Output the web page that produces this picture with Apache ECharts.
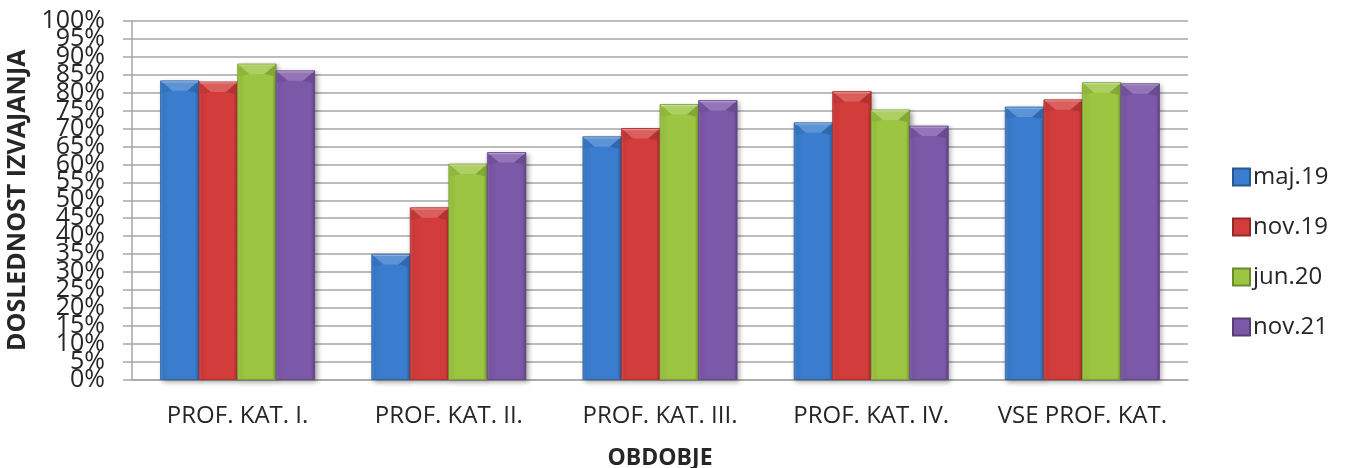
<!DOCTYPE html>
<html>
<head>
<meta charset="utf-8">
<script src="https://cdn.jsdelivr.net/npm/echarts@6/dist/echarts.min.js"></script>
<style>
  html, body { margin: 0; padding: 0; background: #ffffff; }
  #chart { width: 1345px; height: 468px; }
</style>
</head>
<body>
<div id="chart"></div>
<script>
// Categories (professional categories) and survey periods
const categories = ['PROF. KAT. I.', 'PROF. KAT. II.', 'PROF. KAT. III.', 'PROF. KAT. IV.', 'VSE PROF. KAT.'];
const periods = ['maj.19', 'nov.19', 'jun.20', 'nov.21'];

// Share of consistent execution (%) per category, one array per period
const maj19 = [83.3, 34.9, 67.7, 71.6, 76.0];
const nov19 = [83.0, 47.9, 70.0, 80.3, 78.0];
const jun20 = [88.0, 60.1, 76.7, 75.2, 82.8];
const nov21 = [86.1, 63.3, 77.8, 70.7, 82.5];

const periodValues = [maj19, nov19, jun20, nov21];
const periodColors = ['#3a7ccd', '#d23c3a', '#9cc541', '#7c58a8'];

const FONT = '"Open Sans", "Noto Sans", sans-serif';
const GROUP_RATIO = 0.73; // share of a category slot taken by the bar group

function shade(hex, amt) {
  // amt > 0 lightens towards white, amt < 0 darkens towards black
  const n = parseInt(hex.slice(1), 16);
  let r = (n >> 16) & 255, g = (n >> 8) & 255, b = n & 255;
  const t = amt > 0 ? 255 : 0, p = Math.abs(amt);
  r = Math.round(r + (t - r) * p);
  g = Math.round(g + (t - g) * p);
  b = Math.round(b + (t - b) * p);
  return 'rgb(' + r + ',' + g + ',' + b + ')';
}

// Bevelled bar drawn through the cartesian scales
function makeRenderer(idx, color) {
  return function (params, api) {
    const ci = api.value(0);
    const v = api.value(1);
    const base = api.coord([ci, 0]);
    const top = api.coord([ci, v]);
    const catW = api.size([1, 0])[0];
    const groupW = catW * GROUP_RATIO;
    const w = groupW / periods.length;
    const x = base[0] - groupW / 2 + idx * w;
    const y = top[1];
    const h = base[1] - top[1];
    const b = Math.min(10, h / 2);
    const inset = w * 0.3;
    return {
      type: 'group',
      children: [
        {
          type: 'rect',
          shape: { x: x, y: y, width: w, height: h },
          style: {
            fill: new echarts.graphic.LinearGradient(0, 0, 1, 0, [
              { offset: 0, color: shade(color, 0.12) },
              { offset: 0.08, color: color },
              { offset: 0.9, color: color },
              { offset: 1, color: shade(color, -0.25) }
            ]),
            stroke: shade(color, -0.2),
            lineWidth: 0.8,
            shadowBlur: 5,
            shadowOffsetX: 2,
            shadowOffsetY: 2,
            shadowColor: 'rgba(0,0,0,0.35)'
          }
        },
        {
          type: 'polygon',
          shape: { points: [[x + 1, y + 1], [x + w - 1, y + 1], [x + w - inset, y + b], [x + inset, y + b]] },
          style: { fill: shade(color, 0.18) }
        },
        {
          type: 'polygon',
          shape: { points: [[x + 1, y + 1], [x + inset, y + b], [x + 3, y + b + 2], [x + 1, y + b + 2]] },
          style: { fill: shade(color, -0.08) }
        },
        {
          type: 'polygon',
          shape: { points: [[x + w - 1, y + 1], [x + w - inset, y + b], [x + w - 3, y + b + 2], [x + w - 1, y + b + 2]] },
          style: { fill: shade(color, -0.15) }
        },
        {
          type: 'line',
          shape: { x1: x + 1, y1: y + 1, x2: x + w - 1, y2: y + 1 },
          style: { stroke: shade(color, 0.4), lineWidth: 1.2 }
        }
      ]
    };
  };
}

const series = periods.map(function (name, i) {
  return {
    name: name,
    type: 'custom',
    yAxisIndex: 0,
    renderItem: makeRenderer(i, periodColors[i]),
    itemStyle: { color: periodColors[i], borderColor: shade(periodColors[i], -0.3), borderWidth: 1 },
    encode: { x: 0, y: 1 },
    data: periodValues[i].map(function (v, ci) { return [ci, v]; })
  };
});

// The 5 % ticks sit closer than the label height, so the labels are split
// over two stacked axes sharing one scale: tens on one, fives on the other.
const yLabelStyle = {
  fontFamily: FONT, fontSize: 25, color: '#262626', margin: 27,
  hideOverlap: false, showMinLabel: true, showMaxLabel: true
};

const chart = echarts.init(document.getElementById('chart'), null, { renderer: 'canvas' });
chart.setOption({
  animation: false,
  backgroundColor: '#ffffff',
  grid: { left: 132, right: 157, top: 21, bottom: 88.5, containLabel: false, outerBoundsMode: 'none' },
  legend: {
    orient: 'vertical',
    left: 1232,
    top: 165,
    padding: 0,
    icon: 'rect',
    itemWidth: 17,
    itemHeight: 17,
    itemGap: 26,
    data: periods,
    textStyle: { fontFamily: FONT, fontSize: 24, color: '#262626', padding: [0, 0, 0, -2] }
  },
  xAxis: {
    type: 'category',
    data: categories,
    boundaryGap: true,
    name: 'OBDOBJE',
    nameLocation: 'middle',
    nameGap: 67,
    nameTextStyle: { fontFamily: FONT, fontSize: 23, fontWeight: 'bold', color: '#262626' },
    axisLine: { show: true, lineStyle: { color: '#a6a6a6', width: 1.5 } },
    axisTick: { show: false },
    axisLabel: { fontFamily: FONT, fontSize: 24, color: '#262626', margin: 25, interval: 0 },
    splitLine: { show: false }
  },
  yAxis: [
    {
      type: 'value',
      position: 'left',
      min: 0,
      max: 100,
      interval: 5,
      name: 'DOSLEDNOST IZVAJANJA',
      nameLocation: 'middle',
      nameGap: 94,
      nameRotate: 90,
      nameTextStyle: { fontFamily: FONT, fontSize: 25, fontWeight: 'bold', color: '#262626' },
      axisLine: { show: true, lineStyle: { color: '#a6a6a6', width: 1.5 } },
      axisTick: { show: true, inside: false, length: 9, lineStyle: { color: '#a6a6a6', width: 1.5 } },
      axisLabel: Object.assign({}, yLabelStyle, {
        formatter: function (v) { return v % 10 === 0 ? v + '%' : ''; }
      }),
      splitLine: { show: true, lineStyle: { color: '#a6a6a6', width: 1.5 } }
    },
    {
      type: 'value',
      position: 'left',
      offset: 0,
      min: 0,
      max: 100,
      interval: 5,
      axisLine: { show: false },
      axisTick: { show: false },
      axisLabel: Object.assign({}, yLabelStyle, {
        formatter: function (v) { return v % 10 === 5 ? v + '%' : ''; }
      }),
      splitLine: { show: false }
    }
  ],
  series: series
});
</script>
</body>
</html>
